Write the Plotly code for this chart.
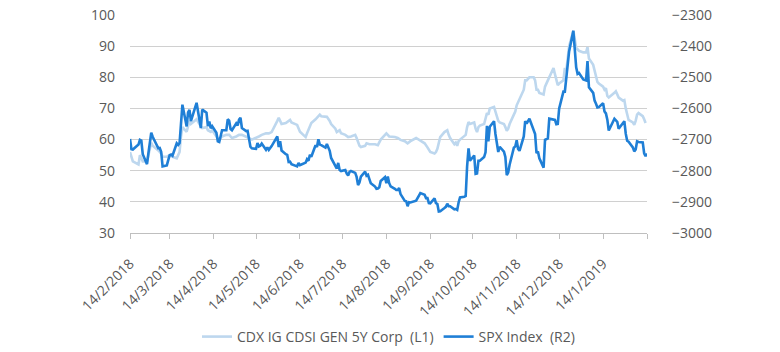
import plotly.graph_objects as go

# ---------------- data ----------------
spx_dates = [
"2018-02-14","2018-02-15","2018-02-16","2018-02-20","2018-02-21","2018-02-22","2018-02-23","2018-02-26","2018-02-27","2018-02-28",
"2018-03-01","2018-03-02","2018-03-05","2018-03-06","2018-03-07","2018-03-08","2018-03-09","2018-03-12","2018-03-13","2018-03-14",
"2018-03-15","2018-03-16","2018-03-19","2018-03-20","2018-03-21","2018-03-22","2018-03-23","2018-03-26","2018-03-27","2018-03-28",
"2018-03-29","2018-04-02","2018-04-03","2018-04-04","2018-04-05","2018-04-06","2018-04-09","2018-04-10","2018-04-11","2018-04-12",
"2018-04-13","2018-04-16","2018-04-17","2018-04-18","2018-04-19","2018-04-20","2018-04-23","2018-04-24","2018-04-25","2018-04-26",
"2018-04-27","2018-04-30","2018-05-01","2018-05-02","2018-05-03","2018-05-04","2018-05-07","2018-05-08","2018-05-09","2018-05-10",
"2018-05-11","2018-05-14","2018-05-15","2018-05-16","2018-05-17","2018-05-18","2018-05-21","2018-05-22","2018-05-23","2018-05-24",
"2018-05-25","2018-05-29","2018-05-30","2018-05-31","2018-06-01","2018-06-04","2018-06-05","2018-06-06","2018-06-07","2018-06-08",
"2018-06-11","2018-06-12","2018-06-13","2018-06-14","2018-06-15","2018-06-18","2018-06-19","2018-06-20","2018-06-21","2018-06-22",
"2018-06-25","2018-06-26","2018-06-27","2018-06-28","2018-06-29","2018-07-02","2018-07-03","2018-07-05","2018-07-06","2018-07-09",
"2018-07-10","2018-07-11","2018-07-12","2018-07-13","2018-07-16","2018-07-17","2018-07-18","2018-07-19","2018-07-20","2018-07-23",
"2018-07-24","2018-07-25","2018-07-26","2018-07-27","2018-07-30","2018-07-31","2018-08-01","2018-08-02","2018-08-03","2018-08-06",
"2018-08-07","2018-08-08","2018-08-09","2018-08-10","2018-08-13","2018-08-14","2018-08-15","2018-08-16","2018-08-17","2018-08-20",
"2018-08-21","2018-08-22","2018-08-23","2018-08-24","2018-08-27","2018-08-28","2018-08-29","2018-08-30","2018-08-31","2018-09-04",
"2018-09-05","2018-09-06","2018-09-07","2018-09-10","2018-09-11","2018-09-12","2018-09-13","2018-09-14","2018-09-17","2018-09-18",
"2018-09-19","2018-09-20","2018-09-21","2018-09-24","2018-09-25","2018-09-26","2018-09-27","2018-09-28","2018-10-01","2018-10-02",
"2018-10-03","2018-10-04","2018-10-05","2018-10-08","2018-10-09","2018-10-10","2018-10-11","2018-10-12","2018-10-15","2018-10-16",
"2018-10-17","2018-10-18","2018-10-19","2018-10-22","2018-10-23","2018-10-24","2018-10-25","2018-10-26","2018-10-29","2018-10-30",
"2018-10-31","2018-11-01","2018-11-02","2018-11-05","2018-11-06","2018-11-07","2018-11-08","2018-11-09","2018-11-12","2018-11-13",
"2018-11-14","2018-11-15","2018-11-16","2018-11-19","2018-11-20","2018-11-21","2018-11-23","2018-11-26","2018-11-27","2018-11-28",
"2018-11-29","2018-11-30","2018-12-03","2018-12-04","2018-12-06","2018-12-07","2018-12-10","2018-12-11","2018-12-12","2018-12-13",
"2018-12-14","2018-12-17","2018-12-18","2018-12-19","2018-12-20","2018-12-21","2018-12-24","2018-12-26","2018-12-27","2018-12-28",
"2018-12-31","2019-01-02","2019-01-03","2019-01-04","2019-01-07","2019-01-08","2019-01-09","2019-01-10","2019-01-11","2019-01-14",
"2019-01-15","2019-01-16","2019-01-17","2019-01-18","2019-01-22","2019-01-23","2019-01-24","2019-01-25","2019-01-28","2019-01-29",
"2019-01-30","2019-01-31","2019-02-01","2019-02-04","2019-02-05","2019-02-06","2019-02-07","2019-02-08","2019-02-11","2019-02-12",
"2019-02-13","2019-02-14",
]
# SPX plotted inverted on the right axis (R2)
spx_r2 = [
-2698,-2731,-2732,-2716,-2701,-2703,-2747,-2779,-2744,-2714,
-2678,-2691,-2720,-2728,-2727,-2739,-2786,-2783,-2766,-2750,
-2748,-2752,-2712,-2717,-2711,-2643,-2588,-2658,-2613,-2605,
-2641,-2582,-2614,-2644,-2663,-2604,-2614,-2657,-2642,-2664,
-2657,-2678,-2706,-2708,-2693,-2670,-2670,-2635,-2639,-2666,
-2670,-2648,-2655,-2636,-2630,-2663,-2673,-2672,-2697,-2723,
-2728,-2730,-2711,-2722,-2720,-2713,-2733,-2725,-2733,-2727,
-2721,-2690,-2724,-2705,-2735,-2747,-2749,-2772,-2771,-2779,
-2783,-2786,-2775,-2782,-2780,-2774,-2763,-2768,-2749,-2755,
-2718,-2724,-2699,-2716,-2718,-2726,-2714,-2736,-2759,-2784,
-2793,-2775,-2798,-2801,-2798,-2809,-2815,-2804,-2801,-2807,
-2820,-2846,-2838,-2819,-2803,-2816,-2813,-2827,-2840,-2851,
-2858,-2857,-2853,-2833,-2821,-2840,-2819,-2840,-2850,-2858,
-2862,-2862,-2856,-2875,-2897,-2898,-2914,-2901,-2902,-2896,
-2888,-2878,-2872,-2877,-2888,-2888,-2904,-2905,-2889,-2904,
-2907,-2931,-2930,-2920,-2916,-2906,-2914,-2914,-2924,-2923,
-2926,-2902,-2886,-2884,-2881,-2786,-2728,-2768,-2751,-2810,
-2809,-2768,-2768,-2756,-2741,-2656,-2706,-2659,-2641,-2682,
-2712,-2740,-2723,-2739,-2756,-2814,-2806,-2781,-2726,-2722,
-2702,-2730,-2736,-2690,-2641,-2649,-2633,-2673,-2682,-2744,
-2738,-2760,-2790,-2701,-2696,-2633,-2637,-2637,-2651,-2650,
-2600,-2546,-2546,-2507,-2467,-2417,-2351,-2468,-2489,-2486,
-2507,-2510,-2448,-2532,-2550,-2575,-2585,-2597,-2596,-2583,
-2610,-2616,-2636,-2671,-2633,-2639,-2643,-2665,-2644,-2641,
-2681,-2704,-2707,-2725,-2738,-2732,-2706,-2708,-2709,-2744,
-2753,-2745,
]

cdx_dates = [
"2018-02-14","2018-02-15","2018-02-16","2018-02-20","2018-02-21","2018-02-22","2018-02-23","2018-02-26","2018-02-27","2018-02-28",
"2018-03-01","2018-03-02","2018-03-05","2018-03-06","2018-03-08","2018-03-09","2018-03-12","2018-03-14","2018-03-16","2018-03-19",
"2018-03-20","2018-03-21","2018-03-22","2018-03-23","2018-03-26","2018-03-27","2018-03-28","2018-03-29","2018-04-02","2018-04-04",
"2018-04-06","2018-04-09","2018-04-10","2018-04-12","2018-04-13","2018-04-16","2018-04-18","2018-04-20","2018-04-23","2018-04-25",
"2018-04-27","2018-04-30","2018-05-02","2018-05-04","2018-05-07","2018-05-09","2018-05-11","2018-05-14","2018-05-16","2018-05-18",
"2018-05-21","2018-05-23","2018-05-25","2018-05-29","2018-05-30","2018-05-31","2018-06-01","2018-06-04","2018-06-06","2018-06-07",
"2018-06-08","2018-06-12","2018-06-14","2018-06-18","2018-06-19","2018-06-20","2018-06-22","2018-06-25","2018-06-26","2018-06-28",
"2018-06-29","2018-07-02","2018-07-03","2018-07-05","2018-07-06","2018-07-09","2018-07-10","2018-07-12","2018-07-13","2018-07-16",
"2018-07-18","2018-07-20","2018-07-23","2018-07-24","2018-07-26","2018-07-27","2018-07-30","2018-07-31","2018-08-02","2018-08-06",
"2018-08-08","2018-08-10","2018-08-13","2018-08-14","2018-08-15","2018-08-16","2018-08-20","2018-08-22","2018-08-24","2018-08-27",
"2018-08-29","2018-08-31","2018-09-04","2018-09-06","2018-09-07","2018-09-10","2018-09-12","2018-09-14","2018-09-17","2018-09-18",
"2018-09-19","2018-09-20","2018-09-21","2018-09-24","2018-09-26","2018-09-27","2018-09-28","2018-10-01","2018-10-02","2018-10-03",
"2018-10-04","2018-10-05","2018-10-08","2018-10-09","2018-10-10","2018-10-11","2018-10-12","2018-10-15","2018-10-16","2018-10-17",
"2018-10-18","2018-10-19","2018-10-22","2018-10-23","2018-10-24","2018-10-25","2018-10-26","2018-10-29","2018-10-30","2018-10-31",
"2018-11-01","2018-11-02","2018-11-05","2018-11-06","2018-11-07","2018-11-08","2018-11-09","2018-11-12","2018-11-13","2018-11-14",
"2018-11-15","2018-11-16","2018-11-19","2018-11-20","2018-11-21","2018-11-23","2018-11-26","2018-11-27","2018-11-28","2018-11-29",
"2018-11-30","2018-12-03","2018-12-04","2018-12-06","2018-12-07","2018-12-10","2018-12-11","2018-12-12","2018-12-13","2018-12-14",
"2018-12-17","2018-12-18","2018-12-19","2018-12-20","2018-12-21","2018-12-24","2018-12-26","2018-12-27","2018-12-28","2018-12-31",
"2019-01-02","2019-01-03","2019-01-04","2019-01-07","2019-01-08","2019-01-09","2019-01-10","2019-01-11","2019-01-14","2019-01-15",
"2019-01-16","2019-01-17","2019-01-18","2019-01-22","2019-01-23","2019-01-24","2019-01-25","2019-01-28","2019-01-29","2019-01-30",
"2019-01-31","2019-02-01","2019-02-04","2019-02-05","2019-02-06","2019-02-07","2019-02-08","2019-02-11","2019-02-12","2019-02-13",
]
cdx_l1 = [
56, 54, 53, 52, 55, 54, 53, 53, 55, 57,
59, 58, 57, 56.5, 55.5, 54.5, 54.5, 55, 54.5, 54,
55, 56, 61, 64, 62.5, 64, 66, 65, 66.5, 65,
63.7, 64, 63, 62.5, 63, 61, 60, 61, 61.5, 61.5,
60.5, 61, 61.5, 61.5, 61, 60.5, 60, 60.5, 61, 61.5,
62, 62, 62.4, 66, 67, 66, 65, 65.3, 66, 66.3,
65.5, 64.7, 62.5, 60.8, 62, 63, 65.3, 66.5, 67, 68,
67.5, 67.5, 67.3, 66, 65, 63.5, 62.4, 63, 62, 61.5,
60.8, 61, 61.5, 60.5, 58, 57.6, 58, 58.8, 58.5, 58.5,
58.2, 60, 61.5, 62, 61.5, 61, 60.8, 60.5, 59.9, 59.5,
58.8, 59.5, 60.5, 59.9, 59.5, 58.8, 57.5, 56, 55.5, 56,
57, 59, 60.8, 62.4, 63, 61.5, 60.5, 58.5, 59, 58,
59.5, 60, 61, 61.5, 64, 65.6, 65, 65.5, 63.5, 62.4,
64, 64.5, 65, 66.5, 68.5, 68, 70, 70.5, 69, 67,
66, 65.5, 65, 64, 62.8, 63.5, 65, 68, 69, 71,
72, 73.3, 76, 79, 79, 80, 80, 79, 76, 76,
75, 74.5, 77, 79, 80, 83, 81, 79, 77.5, 78,
79, 83, 82, 86, 90, 95, 89.4, 89, 88.5, 88,
88, 89.7, 86, 84, 82, 80, 78.5, 78, 77, 76,
76.5, 74, 73.5, 75, 75.5, 74.5, 73.5, 72.5, 72.7, 70,
67.5, 66.3, 65.5, 64.7, 66, 68, 68.5, 67.5, 66.5, 65.3,
]

month_ticks = ["2018-02-14","2018-03-14","2018-04-14","2018-05-14","2018-06-14","2018-07-14",
               "2018-08-14","2018-09-14","2018-10-14","2018-11-14","2018-12-14","2019-01-14","2019-02-14"]
month_labels = ["14/2/2018","14/3/2018","14/4/2018","14/5/2018","14/6/2018","14/7/2018",
                "14/8/2018","14/9/2018","14/10/2018","14/11/2018","14/12/2018","14/1/2019",""]
left_ticks = [30, 40, 50, 60, 70, 80, 90, 100]
right_ticks = [-3000, -2900, -2800, -2700, -2600, -2500, -2400, -2300]

# ---------------- figure ----------------
LIGHT = "#bdd7ee"
DARK = "#1f7fd6"
TXT = "#595959"
GRID = "#d0d0d0"
AXIS = "#bfbfbf"
FONT = "Open Sans"

fig = go.Figure()
fig.add_trace(go.Scatter(x=cdx_dates, y=cdx_l1, mode="lines",
                         name="CDX IG CDSI GEN 5Y Corp\u00a0\u00a0(L1)",
                         line=dict(color=LIGHT, width=2.6)))
fig.add_trace(go.Scatter(x=spx_dates, y=spx_r2, mode="lines",
                         name="SPX Index\u00a0\u00a0(R2)", yaxis="y2",
                         line=dict(color=DARK, width=2.6)))

fig.update_layout(
    width=780, height=352,
    margin=dict(l=130, r=133, t=15, b=119, autoexpand=False),
    paper_bgcolor="white", plot_bgcolor="white",
    font=dict(family=FONT, color=TXT, size=14),
    showlegend=True,
    legend=dict(orientation="h", x=0.5, xanchor="center", y=-0.477, yanchor="middle",
                font=dict(size=14, color=TXT), itemwidth=30, traceorder="normal"),
    xaxis=dict(type="date", range=["2018-02-14", "2019-02-14"], automargin=False,
               tickmode="array", tickvals=month_ticks, ticktext=month_labels,
               tickangle=-45, tickfont=dict(size=14, color=TXT),
               ticks="outside", ticklen=5, tickcolor=AXIS, ticklabelstandoff=11,
               showgrid=False, showline=True, linecolor=AXIS, linewidth=1,
               zeroline=False),
    yaxis=dict(range=[30, 100], tickmode="array", tickvals=left_ticks, automargin=False,
               tickfont=dict(size=14, color=TXT), showgrid=True, gridcolor=GRID,
               gridwidth=1, zeroline=False, showline=False,
               ticks="", ticklabelstandoff=14),
    yaxis2=dict(range=[-3000, -2300], overlaying="y", side="right", automargin=False,
                tickmode="array", tickvals=right_ticks,
                tickfont=dict(size=14, color=TXT), showgrid=False, zeroline=False,
                showline=False, ticks="", ticklabelstandoff=24),
)

fig.write_html("out.html")
